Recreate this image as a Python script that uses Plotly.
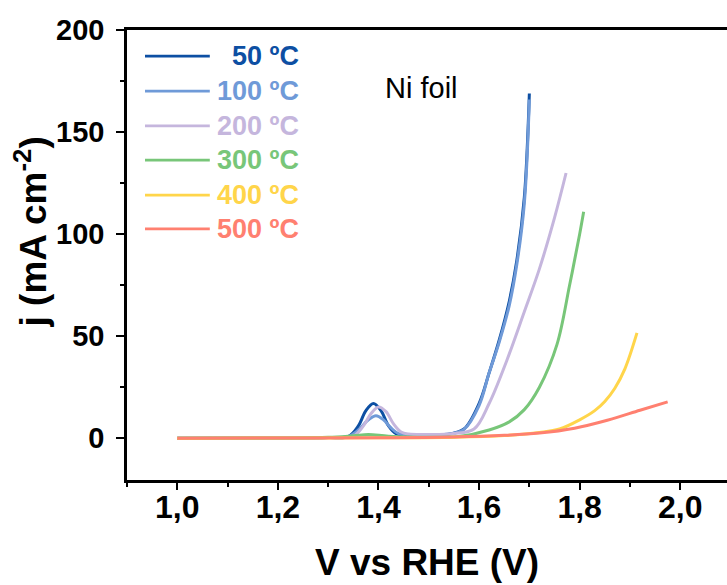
import plotly.graph_objects as go

# ---- data ----
temps = ["50 ºC", "100 ºC", "200 ºC", "300 ºC", "400 ºC", "500 ºC"]
colors = ["#0d4fa3", "#6f9ad8", "#c5b6dd", "#78c679", "#ffd54a", "#ff8070"]

v_50 = [1.00, 1.20, 1.30, 1.34, 1.36, 1.375, 1.39, 1.405, 1.42, 1.435, 1.45, 1.50, 1.54, 1.57, 1.60, 1.62, 1.64, 1.66, 1.675, 1.69, 1.70]
j_50 = [0.0, 0.1, 0.3, 0.8, 6.0, 13.5, 17.0, 13.5, 6.0, 2.2, 1.6, 1.4, 2.0, 4.5, 17.0, 32.0, 48.0, 67.0, 87.0, 118.0, 169.0]

v_100 = [1.00, 1.20, 1.30, 1.34, 1.36, 1.38, 1.395, 1.41, 1.425, 1.44, 1.46, 1.50, 1.54, 1.57, 1.60, 1.62, 1.64, 1.66, 1.675, 1.69, 1.70]
j_100 = [0.0, 0.1, 0.3, 0.8, 4.0, 9.0, 11.0, 9.0, 5.0, 2.2, 1.6, 1.5, 2.0, 4.3, 16.0, 32.0, 47.0, 65.0, 85.0, 115.0, 166.0]

v_200 = [1.00, 1.20, 1.30, 1.35, 1.37, 1.385, 1.40, 1.415, 1.43, 1.445, 1.46, 1.50, 1.55, 1.59, 1.62, 1.655, 1.69, 1.72, 1.75, 1.773]
j_200 = [0.0, 0.1, 0.3, 1.0, 6.0, 12.0, 15.3, 13.0, 7.0, 3.0, 2.0, 1.8, 2.3, 4.5, 17.0, 38.0, 62.0, 83.0, 108.0, 130.0]

v_300 = [1.00, 1.20, 1.30, 1.35, 1.38, 1.42, 1.50, 1.56, 1.62, 1.66, 1.69, 1.72, 1.755, 1.78, 1.80, 1.808]
j_300 = [0.0, 0.1, 0.4, 1.2, 1.8, 1.0, 0.5, 0.8, 4.0, 8.0, 14.0, 25.0, 46.0, 75.0, 100.0, 111.0]

v_400 = [1.00, 1.20, 1.40, 1.55, 1.65, 1.72, 1.76, 1.80, 1.83, 1.85, 1.87, 1.89, 1.914]
j_400 = [0.0, 0.1, 0.2, 0.5, 1.3, 2.8, 4.5, 9.0, 13.5, 18.0, 24.5, 34.0, 51.6]

v_500 = [1.00, 1.20, 1.40, 1.55, 1.65, 1.72, 1.79, 1.855, 1.92, 1.975]
j_500 = [0.0, 0.1, 0.2, 0.6, 1.4, 2.5, 4.9, 8.8, 13.7, 17.8]

series_v = [v_50, v_100, v_200, v_300, v_400, v_500]
series_j = [j_50, j_100, j_200, j_300, j_400, j_500]

x_ticks = [1.0, 1.2, 1.4, 1.6, 1.8, 2.0]
y_ticks = [0, 50, 100, 150, 200]

FONT = "Liberation Sans, Arial, sans-serif"

fig = go.Figure()
for name, col, vv, jj in zip(temps, colors, series_v, series_j):
    fig.add_trace(go.Scatter(x=vv, y=jj, mode="lines", name=name,
                             line=dict(color=col, width=3, shape="spline", smoothing=1.0),
                             showlegend=False))

# manual legend (swatch + right-aligned coloured label)
leg_y = [0.942, 0.864, 0.787, 0.711, 0.633, 0.558]
for name, col, yy in zip(temps, colors, leg_y):
    fig.add_shape(type="line", xref="paper", yref="paper", x0=0.03, x1=0.138, y0=yy, y1=yy,
                  line=dict(color=col, width=2.8))
    fig.add_annotation(xref="paper", yref="paper", x=0.29, y=yy, xanchor="right", yanchor="middle",
                       text=name, showarrow=False,
                       font=dict(family=FONT, size=27, color=col, weight="bold"))

fig.add_annotation(xref="paper", yref="paper", x=0.49, y=0.911, text="Ni foil", showarrow=False,
                   font=dict(family=FONT, size=29, color="black"))

# axis titles
fig.add_annotation(xref="paper", yref="paper", x=0.5, y=-0.184, text="V vs RHE (V)", showarrow=False,
                   xanchor="center", yanchor="middle",
                   font=dict(family=FONT, size=37, color="black", weight="bold"))
fig.add_annotation(xref="paper", yref="paper", x=-0.160, y=0.55, text="j (mA cm<sup>-2</sup>)",
                   showarrow=False, textangle=-90, xanchor="center", yanchor="middle",
                   font=dict(family=FONT, size=37, color="black", weight="bold"))

fig.update_layout(
    width=727, height=585,
    margin=dict(l=127, r=0, t=30, b=105, autoexpand=False),
    paper_bgcolor="white", plot_bgcolor="white",
    separators=",.",
    font=dict(family=FONT, color="black"),
)
fig.update_xaxes(
    automargin=False,
    range=[0.9, 2.093], tickmode="array", tickvals=x_ticks, tickformat=".1f",
    showgrid=False, zeroline=False, showline=True, linecolor="black", linewidth=2.5, mirror=True,
    ticks="outside", ticklen=7, tickwidth=2.2, tickcolor="black", ticklabelstandoff=-10,
    tickfont=dict(family=FONT, size=32, color="black", weight="bold"),
    minor=dict(ticks="outside", ticklen=4, tickwidth=2.2, tickcolor="black", dtick=0.1, tick0=0.9),
)
fig.update_yaxes(
    automargin=False,
    range=[-20.5, 200.1], tickmode="array", tickvals=y_ticks,
    showgrid=False, zeroline=False, showline=True, linecolor="black", linewidth=2.5, mirror=False,
    ticks="outside", ticklen=8, tickwidth=2.2, tickcolor="black", ticklabelstandoff=6,
    tickfont=dict(family=FONT, size=29, color="black", weight="bold"),
    minor=dict(ticks="outside", ticklen=4, tickwidth=2.2, tickcolor="black", dtick=25, tick0=0),
)

fig.write_html("out.html", config={"displayModeBar": False},
               post_script="document.body.style.margin='0';document.body.style.overflow='hidden';")
